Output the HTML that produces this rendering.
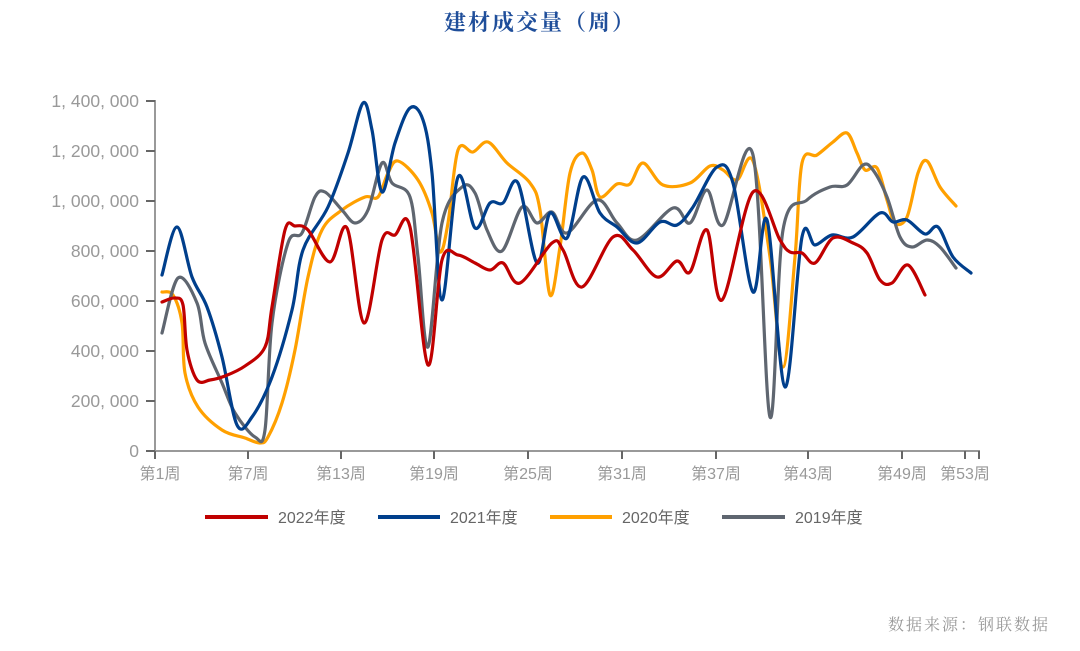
<!DOCTYPE html>
<html><head><meta charset="utf-8"><style>
body{margin:0;background:#fff;width:1080px;height:651px;overflow:hidden}
svg{display:block}
</style></head><body>
<svg id="s" width="1080" height="651" xmlns="http://www.w3.org/2000/svg">
<text x="540" y="30" text-anchor="middle" font-family="'Noto Serif CJK SC',serif" font-weight="bold" font-size="22" fill="#1f4e9a" letter-spacing="2">建材成交量（周）</text>
<g stroke="#999" stroke-width="2" fill="none">
<line x1="155" y1="100" x2="155" y2="452"/>
<line x1="154" y1="451" x2="980" y2="451"/>
</g>
<g id="yt" font-family="'Liberation Sans',sans-serif" font-size="17.5" fill="#999" text-anchor="end"></g>
<g id="xt" font-family="'Liberation Sans','Noto Sans CJK SC',sans-serif" font-size="16" fill="#999" text-anchor="middle"></g>
<g id="lines" fill="none" stroke-width="3.2" stroke-linecap="round" stroke-linejoin="round"></g>
<g font-family="'Liberation Sans','Noto Sans CJK SC',sans-serif" font-size="16" fill="#666">
<line x1="205" y1="517" x2="268" y2="517" stroke="#c00000" stroke-width="4"/><text x="278" y="523">2022年度</text>
<line x1="378" y1="517" x2="440" y2="517" stroke="#003f8c" stroke-width="4"/><text x="450" y="523">2021年度</text>
<line x1="550" y1="517" x2="612" y2="517" stroke="#ffa000" stroke-width="4"/><text x="622" y="523">2020年度</text>
<line x1="722" y1="517" x2="785" y2="517" stroke="#5f6670" stroke-width="4"/><text x="795" y="523">2019年度</text>
</g>
<text x="1050" y="630" text-anchor="end" font-family="'Noto Serif CJK SC',serif" font-size="16" fill="#999" letter-spacing="2">数据来源：钢联数据</text>
</svg>
<script>
var NS="http://www.w3.org/2000/svg";
function el(t,a,txt){var e=document.createElementNS(NS,t);for(var k in a)e.setAttribute(k,a[k]);if(txt)e.textContent=txt;return e;}
var yt=document.getElementById('yt');
var labs=["0","200, 000","400, 000","600, 000","800, 000","1, 000, 000","1, 200, 000","1, 400, 000"];
for(var i=0;i<8;i++){var y=451-i*50;yt.appendChild(el('text',{x:139,y:y+6},labs[i]));yt.appendChild(el('line',{x1:146,y1:y,x2:155,y2:y,stroke:'#666','stroke-width':2}));}
var xt=document.getElementById('xt');
var tk=[[155,"第1周"],[248,"第7周"],[341,"第13周"],[434,"第19周"],[528,"第25周"],[622,"第31周"],[716,"第37周"],[808,"第43周"],[902,"第49周"],[965,"第53周"]];
tk.forEach(function(t){xt.appendChild(el('line',{x1:t[0],y1:451,x2:t[0],y2:459,stroke:'#666','stroke-width':2}));xt.appendChild(el('text',{x:t[0]+(t[0]==155?5:0),y:479},t[1]));});
xt.appendChild(el('line',{x1:979,y1:451,x2:979,y2:459,stroke:'#666','stroke-width':2}));
function path(p){var d="M"+p[0][0]+","+p[0][1];for(var i=0;i<p.length-1;i++){var p0=p[i>0?i-1:i],p1=p[i],p2=p[i+1],p3=p[i+2<p.length?i+2:i+1];
d+=" C"+(p1[0]+(p2[0]-p0[0])/6).toFixed(1)+","+(p1[1]+(p2[1]-p0[1])/6).toFixed(1)+" "+(p2[0]-(p3[0]-p1[0])/6).toFixed(1)+","+(p2[1]-(p3[1]-p1[1])/6).toFixed(1)+" "+p2[0]+","+p2[1];}return d;}
var S={
"#ffa000":[[162,292],[173,295],[182,323],[185,373],[198,407],[222,430],[245,438],[260,443],[268,437],[282,403],[295,350],[308,277],[322,230],[342,210],[365,197],[378,197],[388,173],[398,161],[418,180],[432,213],[440,252],[448,223],[458,150],[473,152],[488,142],[507,163],[530,183],[540,210],[550,295],[560,247],[570,173],[582,153],[592,170],[600,197],[617,184],[630,184],[643,163],[663,185],[690,183],[710,166],[723,170],[737,180],[753,161],[770,257],[783,367],[795,257],[802,163],[817,155],[833,142],[847,133],[857,153],[865,170],[877,168],[887,200],[895,223],[907,217],[918,173],[927,161],[940,187],[956,206]],
"#5f6670":[[162,333],[178,278],[197,303],[205,343],[222,383],[235,413],[255,437],[265,430],[272,323],[288,243],[302,233],[315,197],[325,192],[342,210],[355,223],[368,210],[382,163],[392,183],[410,197],[418,257],[428,347],[442,223],[462,187],[475,193],[487,230],[502,251],[522,207],[537,223],[552,212],[567,233],[597,200],[617,223],[637,240],[673,208],[690,223],[707,190],[723,225],[753,155],[770,417],[783,230],[807,200],[830,187],[847,185],[863,165],[873,170],[887,197],[900,237],[912,247],[927,240],[940,247],[956,268]],
"#003f8c":[[162,275],[177,227],[192,277],[207,307],[222,357],[237,425],[252,417],[272,377],[292,310],[303,250],[328,207],[348,153],[363,103],[372,130],[382,192],[395,143],[410,108],[423,120],[432,173],[442,300],[458,177],[475,228],[490,203],[503,203],[518,183],[537,263],[550,213],[567,238],[583,177],[600,213],[617,227],[637,243],[660,222],[677,225],[693,207],[717,167],[733,183],[753,292],[767,220],[785,387],[802,237],[815,245],[832,235],[853,237],[880,213],[893,222],[907,220],[925,234],[938,227],[953,257],[971,273]],
"#c00000":[[162,302],[175,298],[183,305],[187,350],[197,380],[210,380],[225,376],[245,366],[265,347],[272,307],[285,230],[295,226],[308,230],[330,262],[347,228],[364,323],[382,240],[395,235],[410,227],[428,365],[442,260],[458,255],[475,263],[490,270],[503,263],[520,283],[552,243],[563,250],[582,287],[613,237],[633,250],[657,277],[677,261],[690,272],[707,230],[722,300],[753,192],[780,240],[790,252],[802,253],[815,263],[833,238],[853,243],[867,253],[880,280],[892,283],[908,265],[925,295]]
};
var g=document.getElementById('lines');
for(var c in S){g.appendChild(el('path',{d:path(S[c]),stroke:c}));}
</script>
</body></html>
